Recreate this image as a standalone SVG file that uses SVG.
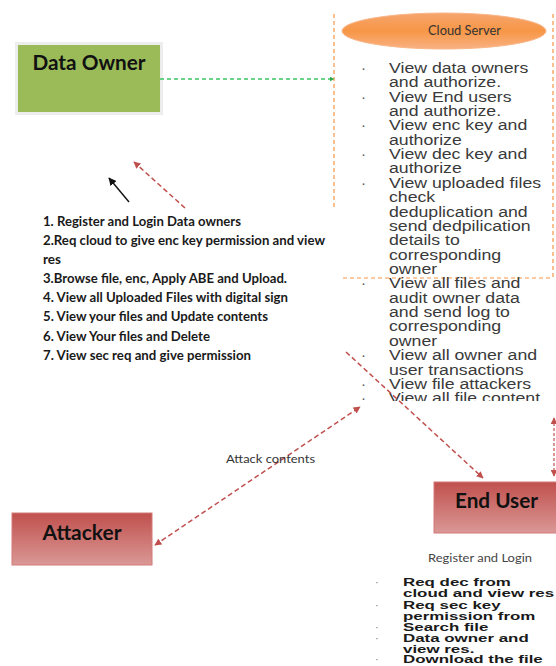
<svg xmlns="http://www.w3.org/2000/svg" width="556" height="666" viewBox="0 0 556 666">
<style>
.title{font-family:Lato,"Liberation Sans",sans-serif;font-weight:bold;font-size:20px;fill:#111}
.cl{font-family:"Liberation Sans",Arial,sans-serif;font-size:15px;fill:#3a3a3a}
.bul{font-family:"Liberation Sans",Arial,sans-serif;font-size:15px;fill:#555}
.num{font-family:Lato,"Liberation Sans",sans-serif;font-weight:bold;font-size:12.5px;fill:#1a1a1a}
.eu{font-family:"Liberation Sans",Arial,sans-serif;font-weight:bold;font-size:11.5px;fill:#1a1a1a}
.eub{font-family:"Liberation Sans",Arial,sans-serif;font-size:11px;fill:#777}
.lbl{font-family:Lato,"Liberation Sans",sans-serif;font-size:12px;fill:#333}
.red{stroke:#C0504D;stroke-width:1.5;stroke-dasharray:5 3;fill:none}
.orange{stroke:#F79646;stroke-width:1.2;stroke-dasharray:4 3;fill:none}
</style>
<defs>
<linearGradient id="redg" x1="0" y1="0" x2="0" y2="1">
<stop offset="0" stop-color="#C0504D"/><stop offset="1" stop-color="#DA9896"/>
</linearGradient>
<linearGradient id="orag" x1="0" y1="0" x2="0" y2="1">
<stop offset="0" stop-color="#F6A56E"/><stop offset="0.5" stop-color="#F79646"/><stop offset="1" stop-color="#F8B183"/>
</linearGradient>
<marker id="ar" viewBox="0 0 10 10" refX="9" refY="5" markerWidth="7" markerHeight="7" markerUnits="userSpaceOnUse" orient="auto-start-reverse">
<path d="M0,0 L10,5 L0,10 z" fill="#C0504D"/>
</marker>
<marker id="ab" viewBox="0 0 10 10" refX="9" refY="5" markerWidth="8" markerHeight="8" markerUnits="userSpaceOnUse" orient="auto">
<path d="M0,0 L10,5 L0,10 z" fill="#111"/>
</marker>
<marker id="ag" viewBox="0 0 10 10" refX="9" refY="5" markerWidth="5" markerHeight="5" markerUnits="userSpaceOnUse" orient="auto">
<path d="M0,0 L10,5 L0,10 z" fill="#2EAA4A"/>
</marker>
<clipPath id="clipc"><rect x="330" y="40" width="226" height="361"/></clipPath>
</defs>

<g id="cloud-frame">
<line class="orange" x1="334" y1="14" x2="334" y2="208"/>
<line class="orange" x1="553" y1="14" x2="553" y2="278"/>
<line class="orange" x1="343" y1="278" x2="553" y2="278"/>
</g>

<g id="data-owner">
<rect x="15" y="42" width="148" height="73" fill="#EDEDED"/>
<rect x="18" y="45" width="142" height="67" fill="#9BBB59"/>
<text class="title" x="89" y="70" text-anchor="middle" textLength="113" lengthAdjust="spacingAndGlyphs">Data Owner</text>
</g>

<g id="cloud-server">
<ellipse cx="444" cy="31" rx="102" ry="18" fill="url(#orag)" stroke="#F9B88A" stroke-width="1"/>
<text x="428" y="35" font-family="Lato,'Liberation Sans',sans-serif" font-size="13" fill="#333" textLength="73" lengthAdjust="spacingAndGlyphs">Cloud Server</text>
</g>

<g id="cloud-list" clip-path="url(#clipc)">
<g class="bul">
<text x="361" y="73">·</text>
<text x="361" y="102">·</text>
<text x="361" y="130">·</text>
<text x="361" y="159">·</text>
<text x="361" y="188">·</text>
<text x="361" y="288">·</text>
<text x="361" y="360">·</text>
<text x="361" y="389">·</text>
<text x="361" y="403">·</text>
</g>
<g class="cl" transform="translate(389,0) scale(1.18,1)">
<text x="0" y="73">View data owners</text>
<text x="0" y="87.4">and authorize.</text>
<text x="0" y="101.7">View End users</text>
<text x="0" y="116.1">and authorize.</text>
<text x="0" y="130.4">View enc key and</text>
<text x="0" y="144.8">authorize</text>
<text x="0" y="159.2">View dec key and</text>
<text x="0" y="173.5">authorize</text>
<text x="0" y="187.9">View uploaded files</text>
<text x="0" y="202.2">check</text>
<text x="0" y="216.6">deduplication and</text>
<text x="0" y="231">send dedpilication</text>
<text x="0" y="245.3">details to</text>
<text x="0" y="259.7">corresponding</text>
<text x="0" y="274">owner</text>
<text x="0" y="288.4">View all files and</text>
<text x="0" y="302.8">audit owner data</text>
<text x="0" y="317.1">and send log to</text>
<text x="0" y="331.5">corresponding</text>
<text x="0" y="345.8">owner</text>
<text x="0" y="360.2">View all owner and</text>
<text x="0" y="374.6">user transactions</text>
<text x="0" y="388.9">View file attackers</text>
<text x="0" y="403.3">View all file content</text>
</g>
</g>

<g id="owner-list" class="num">
<text x="43" y="226" textLength="198" lengthAdjust="spacingAndGlyphs">1. Register and Login Data owners</text>
<text x="43" y="245" textLength="282" lengthAdjust="spacingAndGlyphs">2.Req cloud to give enc key permission and view</text>
<text x="43" y="264" textLength="18" lengthAdjust="spacingAndGlyphs">res</text>
<text x="43" y="283" textLength="244" lengthAdjust="spacingAndGlyphs">3.Browse file, enc, Apply ABE and Upload.</text>
<text x="43" y="302" textLength="245" lengthAdjust="spacingAndGlyphs">4. View all Uploaded Files with digital sign</text>
<text x="43" y="321" textLength="225" lengthAdjust="spacingAndGlyphs">5. View your files and Update contents</text>
<text x="43" y="341" textLength="167" lengthAdjust="spacingAndGlyphs">6. View Your files and Delete</text>
<text x="43" y="360" textLength="208" lengthAdjust="spacingAndGlyphs">7. View sec req and give permission</text>
</g>

<g id="attacker">
<rect x="12" y="513" width="140" height="52" fill="url(#redg)" stroke="#D27A78" stroke-width="1"/>
<text class="title" x="82" y="540" text-anchor="middle" textLength="79" lengthAdjust="spacingAndGlyphs">Attacker</text>
</g>

<g id="end-user">
<rect x="434" y="482" width="130" height="51" fill="url(#redg)" stroke="#D27A78" stroke-width="1"/>
<text class="title" x="455" y="508" textLength="83" lengthAdjust="spacingAndGlyphs">End User</text>
<text x="480" y="562" text-anchor="middle" font-family="Lato,'Liberation Sans',sans-serif" font-size="12" fill="#444" textLength="104" lengthAdjust="spacingAndGlyphs">Register and Login</text>
</g>

<g id="end-user-list">
<g class="eub">
<text x="375" y="586">·</text>
<text x="375" y="609">·</text>
<text x="375" y="631">·</text>
<text x="375" y="642">·</text>
<text x="375" y="663">·</text>
</g>
<g class="eu" transform="translate(403,0) scale(1.47,1)">
<text x="0" y="586">Req dec from</text>
<text x="0" y="597">cloud and view res</text>
<text x="0" y="609">Req sec key</text>
<text x="0" y="620">permission from</text>
<text x="0" y="631">Search file</text>
<text x="0" y="642">Data owner and</text>
<text x="0" y="653">view res.</text>
<text x="0" y="663">Download the file</text>
</g>
</g>

<g id="connectors">
<line x1="160" y1="79" x2="334" y2="79" stroke="#3CC463" stroke-width="1.3" stroke-dasharray="4 3" marker-end="url(#ag)"/>
<line x1="185" y1="208" x2="134" y2="162" class="red" marker-end="url(#ar)"/>
<line x1="129" y1="202" x2="109" y2="178" stroke="#111" stroke-width="1.4" marker-end="url(#ab)"/>
<line x1="155" y1="545" x2="360" y2="407" class="red" marker-start="url(#ar)" marker-end="url(#ar)"/>
<line x1="346" y1="352" x2="483" y2="478" class="red" marker-end="url(#ar)"/>
<line x1="554" y1="418" x2="554" y2="476" stroke="#C0504D" stroke-width="1.2" stroke-dasharray="3 2" marker-start="url(#ar)" marker-end="url(#ar)"/>
<text class="lbl" x="226" y="463" textLength="89" lengthAdjust="spacingAndGlyphs">Attack contents</text>
</g>
</svg>
